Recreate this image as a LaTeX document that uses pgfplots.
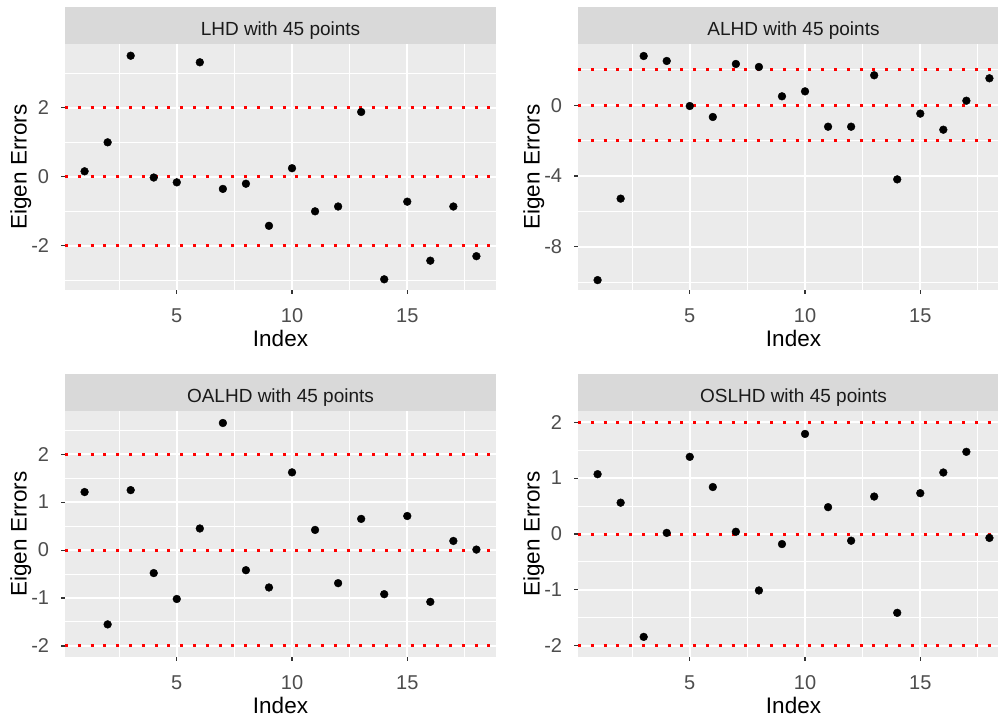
\documentclass[border=0pt]{standalone}
\usepackage{fontspec}
\setmainfont{Liberation Sans}
\usepackage{pgfplots}
\pgfplotsset{compat=1.18}
\definecolor{panelbg}{HTML}{EBEBEB}
\definecolor{stripbg}{HTML}{D9D9D9}
\definecolor{ticklab}{HTML}{4D4D4D}
\definecolor{tickcol}{HTML}{333333}
\definecolor{striptxt}{HTML}{1A1A1A}

\pgfplotsset{
  ggpanel/.style={
    scale only axis, width=431pt, height=246pt,
    anchor=south west,
    xmin=0.15, xmax=18.85,
    xtick={5,10,15}, xticklabels={5,10,15},
    minor xtick={2.5,7.5,12.5,17.5},
    axis background/.style={fill=panelbg},
    axis line style={draw=none},
    tick align=outside, tick pos=left,
    major tick length=3.7pt, minor tick length=0pt,
    tick style={tickcol, line width=1.1pt},
    grid=both,
    major grid style={white, line width=2pt},
    minor grid style={white, line width=1pt},
    xticklabel style={font=\fontsize{20}{20}\selectfont, text=ticklab, inner sep=0pt, anchor=north, yshift=-15pt},
    yticklabel style={font=\fontsize{20}{20}\selectfont, text=ticklab, inner sep=0pt, anchor=east, xshift=-12pt},
    xlabel={Index}, ylabel={Eigen Errors},
    every axis x label/.style={at={(axis description cs:0.5,0)}, anchor=base, yshift=-56.5pt, font=\fontsize{22.5}{22.5}\selectfont},
    every axis y label/.style={at={(axis description cs:0,0.5)}, xshift=-38.5pt, rotate=90, anchor=base, font=\fontsize{22.5}{22.5}\selectfont},
    every axis title/.style={at={(axis description cs:0.5,1)}, anchor=south, fill=stripbg, text=striptxt,
      minimum width=431pt, minimum height=37pt, inner sep=0pt, text height=29pt, text depth=8pt,
      font=\fontsize{19}{19}\selectfont},
  },
  ggpts/.style={only marks, mark=*, mark size=3.9pt, mark options={draw=none, fill=black}},
  gghl/.style={red, line width=3pt, dash pattern=on 3pt off 9.8pt},
}

\begin{document}
\begin{tikzpicture}
\useasboundingbox (0pt,0pt) rectangle (998pt,718pt);

% Panel 1: LHD
\begin{axis}[ggpanel, at={(65pt,428pt)}, title={LHD with 45 points},
  ymin=-3.28, ymax=3.85,
  ytick={-2,0,2}, yticklabels={-2,0,2},
  minor ytick={-3,-1,1,3}]
\addplot[ggpts] coordinates {
(1,0.16) (2,1.0) (3,3.51) (4,-0.02) (5,-0.16) (6,3.32) (7,-0.35) (8,-0.20) (9,-1.42)
(10,0.25) (11,-1.0) (12,-0.86) (13,1.88) (14,-2.97) (15,-0.72) (16,-2.43) (17,-0.86) (18,-2.30)};
\addplot[gghl] coordinates {(0.15,2) (18.85,2)};
\addplot[gghl] coordinates {(0.15,0) (18.85,0)};
\addplot[gghl] coordinates {(0.15,-2) (18.85,-2)};
\end{axis}

% Panel 2: ALHD
\begin{axis}[ggpanel, at={(578pt,428pt)}, title={ALHD with 45 points},
  ymin=-10.45, ymax=3.47,
  ytick={-8,-4,0}, yticklabels={-8,-4,0},
  minor ytick={-10,-6,-2,2}]
\addplot[ggpts] coordinates {
(1,-9.89) (2,-5.28) (3,2.79) (4,2.51) (5,-0.04) (6,-0.66) (7,2.34) (8,2.17) (9,0.51)
(10,0.79) (11,-1.21) (12,-1.21) (13,1.70) (14,-4.19) (15,-0.47) (16,-1.38) (17,0.26) (18,1.53)};
\addplot[gghl] coordinates {(0.15,2) (18.85,2)};
\addplot[gghl] coordinates {(0.15,0) (18.85,0)};
\addplot[gghl] coordinates {(0.15,-2) (18.85,-2)};
\end{axis}

% Panel 3: OALHD
\begin{axis}[ggpanel, at={(65pt,61pt)}, title={OALHD with 45 points},
  ymin=-2.23, ymax=2.9,
  ytick={-2,-1,0,1,2}, yticklabels={-2,-1,0,1,2},
  minor ytick={-1.5,-0.5,0.5,1.5,2.5}]
\addplot[ggpts] coordinates {
(1,1.21) (2,-1.55) (3,1.25) (4,-0.48) (5,-1.02) (6,0.45) (7,2.65) (8,-0.42) (9,-0.78)
(10,1.62) (11,0.42) (12,-0.69) (13,0.65) (14,-0.92) (15,0.71) (16,-1.08) (17,0.19) (18,0.01)};
\addplot[gghl] coordinates {(0.15,2) (18.85,2)};
\addplot[gghl] coordinates {(0.15,0) (18.85,0)};
\addplot[gghl] coordinates {(0.15,-2) (18.85,-2)};
\end{axis}

% Panel 4: OSLHD
\begin{axis}[ggpanel, at={(578pt,61pt)}, title={OSLHD with 45 points},
  ymin=-2.2, ymax=2.2,
  ytick={-2,-1,0,1,2}, yticklabels={-2,-1,0,1,2},
  minor ytick={-1.5,-0.5,0.5,1.5}]
\addplot[ggpts] coordinates {
(1,1.07) (2,0.56) (3,-1.84) (4,0.02) (5,1.38) (6,0.84) (7,0.04) (8,-1.01) (9,-0.18)
(10,1.79) (11,0.48) (12,-0.12) (13,0.67) (14,-1.41) (15,0.73) (16,1.10) (17,1.47) (18,-0.07)};
\addplot[gghl] coordinates {(0.15,2) (18.85,2)};
\addplot[gghl] coordinates {(0.15,0) (18.85,0)};
\addplot[gghl] coordinates {(0.15,-2) (18.85,-2)};
\end{axis}
\end{tikzpicture}
\end{document}
